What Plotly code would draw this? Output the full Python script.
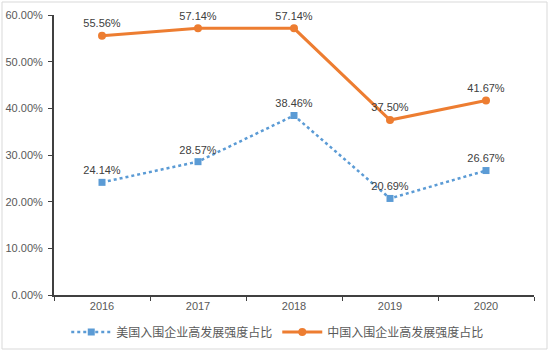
import plotly.graph_objects as go

years = ["2016", "2017", "2018", "2019", "2020"]
us_vals = [0.2414, 0.2857, 0.3846, 0.2069, 0.2667]
cn_vals = [0.5556, 0.5714, 0.5714, 0.3750, 0.4167]
us_name = "美国入围企业高发展强度占比"
cn_name = "中国入围企业高发展强度占比"

font_fam = "Liberation Sans, Noto Sans CJK SC, sans-serif"
label_color = "#404040"

fig = go.Figure()
fig.add_trace(go.Scatter(
    x=years, y=us_vals, name=us_name, mode="lines+markers+text",
    line=dict(color="#5B9BD5", width=2.5, dash="dot"),
    marker=dict(symbol="square", size=7, color="#5B9BD5"),
    text=[f"{v*100:.2f}%" for v in us_vals], textposition="top center",
    textfont=dict(size=11, color=label_color, family=font_fam),
    cliponaxis=False,
))
fig.add_trace(go.Scatter(
    x=years, y=cn_vals, name=cn_name, mode="lines+markers+text",
    line=dict(color="#ED7D31", width=3),
    marker=dict(symbol="circle", size=8, color="#ED7D31"),
    text=[f"{v*100:.2f}%" for v in cn_vals], textposition="top center",
    textfont=dict(size=11, color=label_color, family=font_fam),
    cliponaxis=False,
))

fig.update_layout(
    width=550, height=352,
    margin=dict(l=54, r=16, t=15, b=57, autoexpand=False),
    paper_bgcolor="white", plot_bgcolor="white",
    font=dict(family=font_fam, size=11, color="#595959"),
    showlegend=True,
    legend=dict(orientation="h", xref="container", yref="container",
                x=0.505, xanchor="center", y=0.057, yanchor="middle",
                font=dict(size=12, color="#595959", family="Noto Sans CJK SC, sans-serif"),
                itemwidth=40, tracegroupgap=0),
    xaxis=dict(type="category", range=[-0.5, 4.5], autorange=False,
               showline=True, linecolor="#404040", linewidth=2,
               ticks="outside", tickson="boundaries", ticklen=4, tickcolor="#404040",
               showgrid=False, tickfont=dict(size=11, color="#595959")),
    yaxis=dict(range=[0, 0.6], dtick=0.1, tickformat=".2%", showline=True,
               linecolor="#404040", linewidth=2, ticks="outside", ticklen=4,
               tickcolor="#404040", showgrid=False, zeroline=False,
               ticklabelstandoff=3,
               tickfont=dict(size=11, color="#595959")),
    shapes=[dict(type="rect", xref="paper", yref="paper",
                 x0=(2-54)/480, x1=(547-54)/480, y0=(295-349)/280, y1=(295-2)/280,
                 line=dict(color="#D9D9D9", width=1), layer="below")],
)
fig.write_html("out.html")
